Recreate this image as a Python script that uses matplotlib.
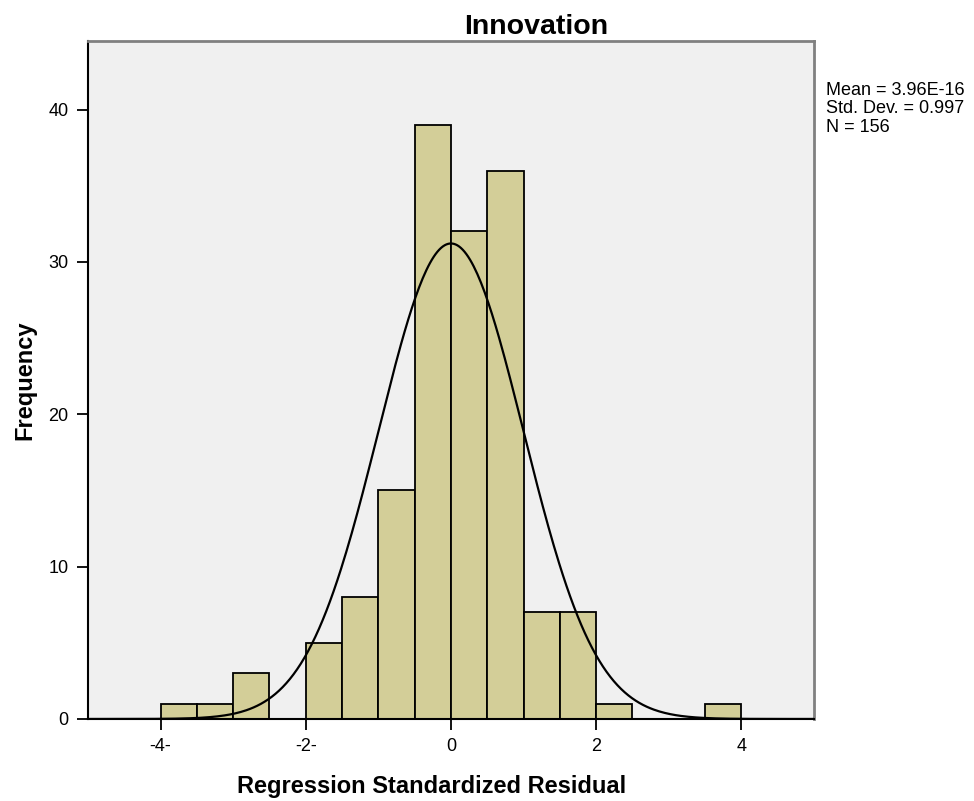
import numpy as np
import matplotlib.pyplot as plt

plt.rcParams['font.family'] = ['Liberation Sans', 'DejaVu Sans']

# histogram bins (left edges, width 0.5) and counts
bin_left = [-4.0, -3.5, -3.0, -2.5, -2.0, -1.5, -1.0, -0.5, 0.0, 0.5, 1.0, 1.5, 2.0, 2.5, 3.0, 3.5]
counts = [1, 1, 3, 0, 5, 8, 15, 39, 32, 36, 7, 7, 1, 0, 0, 1]
bin_width = 0.5

mean = 3.96e-16
std = 0.997
n = 156

xticks = [-4, -2, 0, 2, 4]
xtick_labels = ['-4-', '-2-', '0', '2', '4']
yticks = [0, 10, 20, 30, 40]

fig = plt.figure(figsize=(9.74, 8.01), dpi=100)
ax = fig.add_axes([0.0903, 0.1024, 0.7454, 0.8464])
ax.set_facecolor('#F0F0F0')

# bars (skip empty bins)
xs = [b for b, c in zip(bin_left, counts) if c > 0]
hs = [c for c in counts if c > 0]
ax.bar(xs, hs, width=bin_width, align='edge', color='#D3CE98',
       edgecolor='black', linewidth=1.3, zorder=2)

# normal curve
x = np.linspace(-5, 5, 400)
y = n * bin_width * np.exp(-0.5 * ((x - mean) / std) ** 2) / (std * np.sqrt(2 * np.pi))
ax.plot(x, y, color='black', linewidth=1.6, zorder=3)

ax.set_xlim(-5, 5)
ax.set_ylim(0, 44.5)
ax.set_xticks(xticks)
ax.set_xticklabels(xtick_labels)
ax.set_yticks(yticks)
ax.tick_params(labelsize=13, length=8, width=1.3, color='black', pad=6)

for side in ['left', 'bottom']:
    ax.spines[side].set_color('black')
    ax.spines[side].set_linewidth(1.5)
for side in ['top', 'right']:
    ax.spines[side].set_color('#808080')
    ax.spines[side].set_linewidth(2)

ax.set_title('Innovation', fontsize=20.5, fontweight='bold', pad=5, x=0.618)
ax.set_xlabel('Regression Standardized Residual', fontsize=17, fontweight='bold',
              labelpad=14, x=0.473)
ax.set_ylabel('Frequency', fontsize=17, fontweight='bold', labelpad=9)

stats = 'Mean = 3.96E-16\nStd. Dev. = 0.997\nN = 156'
fig.text(0.848, 0.898, stats, fontsize=13, va='top', ha='left', linespacing=1.12)

plt.savefig('out.png', dpi=100)
